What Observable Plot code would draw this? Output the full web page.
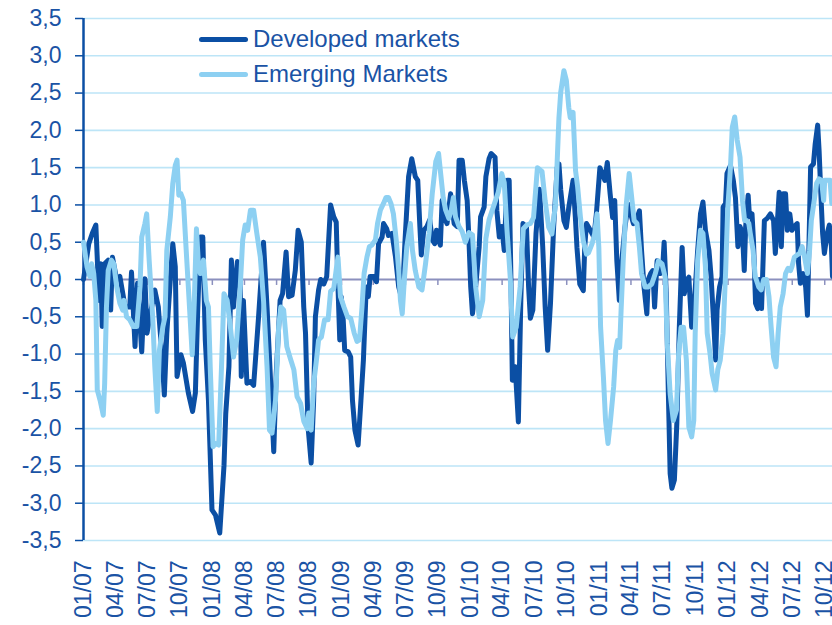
<!DOCTYPE html>
<html>
<head>
<meta charset="utf-8">
<script src="https://cdn.jsdelivr.net/npm/d3@7"></script>
<script src="https://cdn.jsdelivr.net/npm/@observablehq/plot@0.6"></script>
<style>
  body { margin: 0; background: #fff; }
  #wrap { position: relative; width: 832px; height: 625px; overflow: hidden; font-family: "Liberation Sans", Arial, sans-serif; }
  .leg { position: absolute; left: 199px; height: 30px; line-height: 30px; display: flex; align-items: center; font-size: 24px; color: #1A53A5; white-space: nowrap; }
  .leg .sw { display: inline-block; width: 49px; height: 5px; border-radius: 3px; margin-right: 5px; }
</style>
</head>
<body>
<div id="wrap"></div>
<script>
// ---- Data ----
const seriesNames = ["Developed markets", "Emerging Markets"];

const dmDates = [
"2007-01-01","2007-01-16","2007-01-26","2007-02-05","2007-02-14","2007-02-19","2007-02-23","2007-03-02","2007-03-12","2007-03-19",
"2007-03-24","2007-04-05","2007-04-14","2007-04-29","2007-05-12","2007-05-17","2007-05-27","2007-06-03","2007-06-15","2007-06-24",
"2007-06-30","2007-07-08","2007-07-22","2007-08-01","2007-08-11","2007-08-18","2007-08-25","2007-09-04","2007-09-11","2007-09-18",
"2007-09-23","2007-10-04","2007-10-11","2007-10-25","2007-11-06","2007-11-14","2007-11-20","2007-11-28","2007-12-05","2007-12-12",
"2007-12-21","2007-12-31","2008-01-10","2008-01-22","2008-02-03","2008-02-08","2008-02-17","2008-02-24","2008-03-01","2008-03-12",
"2008-03-20","2008-03-23","2008-03-29","2008-04-08","2008-04-18","2008-04-27","2008-05-11","2008-05-25","2008-06-04","2008-06-13",
"2008-06-23","2008-06-30","2008-07-11","2008-07-18","2008-07-28","2008-08-04","2008-08-14","2008-08-23","2008-08-31","2008-09-09",
"2008-09-16","2008-09-21","2008-09-28","2008-10-07","2008-10-14","2008-10-19","2008-10-28","2008-11-03","2008-11-12","2008-11-20",
"2008-12-01","2008-12-10","2008-12-17","2008-12-22","2008-12-27","2008-12-31","2009-01-05","2009-01-10","2009-01-20","2009-01-27",
"2009-02-01","2009-02-08","2009-02-17","2009-02-25","2009-03-04","2009-03-12","2009-03-18","2009-03-23","2009-04-02","2009-04-10",
"2009-04-16","2009-04-26","2009-04-30","2009-05-09","2009-05-14","2009-05-24","2009-06-03","2009-06-12","2009-06-22","2009-06-30",
"2009-07-10","2009-07-19","2009-07-29","2009-08-05","2009-08-11","2009-08-15","2009-08-22","2009-08-31","2009-09-08","2009-09-15",
"2009-09-22","2009-09-27","2009-10-03","2009-10-08","2009-10-13","2009-10-18","2009-10-27","2009-11-06","2009-11-16","2009-11-25",
"2009-11-30","2009-12-09","2009-12-15","2009-12-23","2009-12-28","2010-01-02","2010-01-07","2010-01-16","2010-01-26","2010-01-30",
"2010-02-09","2010-02-14","2010-02-23","2010-03-01","2010-03-12","2010-03-17","2010-03-24","2010-03-31","2010-04-07","2010-04-15",
"2010-04-21","2010-04-26","2010-04-30","2010-05-08","2010-05-17","2010-05-24","2010-05-30","2010-06-09","2010-06-15","2010-06-20",
"2010-06-27","2010-07-06","2010-07-16","2010-07-25","2010-08-01","2010-08-08","2010-08-16","2010-08-25","2010-09-04","2010-09-09",
"2010-09-14","2010-09-23","2010-09-30","2010-10-07","2010-10-19","2010-10-26","2010-10-30","2010-11-07","2010-11-17","2010-11-21",
"2010-11-26","2010-12-07","2010-12-17","2010-12-24","2011-01-03","2011-01-10","2011-01-17","2011-01-24","2011-02-01","2011-02-08",
"2011-02-14","2011-02-20","2011-02-27","2011-03-06","2011-03-15","2011-03-24","2011-03-31","2011-04-08","2011-04-16","2011-04-25",
"2011-05-01","2011-05-08","2011-05-16","2011-05-20","2011-05-27","2011-06-02","2011-06-07","2011-06-14","2011-06-23","2011-06-30",
"2011-07-04","2011-07-10","2011-07-16","2011-07-21","2011-07-26","2011-08-02","2011-08-09","2011-08-16","2011-08-24","2011-08-30",
"2011-09-07","2011-09-12","2011-09-20","2011-09-28","2011-10-07","2011-10-15","2011-10-22","2011-10-29","2011-11-08","2011-11-14",
"2011-11-22","2011-11-27","2011-12-01","2011-12-08","2011-12-15","2011-12-18","2011-12-25","2011-12-29","2012-01-08","2012-01-16",
"2012-01-22","2012-01-29","2012-02-04","2012-02-11","2012-02-16","2012-02-20","2012-02-27","2012-03-02","2012-03-09","2012-03-13",
"2012-03-19","2012-03-25","2012-03-30","2012-04-05","2012-04-13","2012-04-21","2012-04-30","2012-05-09","2012-05-14","2012-05-19",
"2012-05-25","2012-05-31","2012-06-05","2012-06-12","2012-06-17","2012-06-24","2012-06-30","2012-07-07","2012-07-15","2012-07-19",
"2012-07-24","2012-08-01","2012-08-08","2012-08-13","2012-08-17","2012-08-22","2012-08-30","2012-09-04","2012-09-11","2012-09-15",
"2012-09-20","2012-09-25","2012-09-30","2012-10-08","2012-10-14","2012-10-20","2012-10-23"
];
const dmValues = [
0.0,0.48,0.62,0.73,-0.28,0.21,-0.63,0.21,0.26,-0.41,
0.30,0.0,0.04,-0.37,-0.37,0.10,-0.90,-0.05,-0.97,0.01,
-0.72,-0.50,-0.14,-0.37,-0.99,-1.55,-0.72,0.0,0.48,0.17,
-1.30,-1.01,-1.12,-1.52,-1.77,-1.52,-0.50,0.57,0.57,-0.81,
-1.62,-3.09,-3.16,-3.40,-2.50,-1.80,-1.17,0.26,-0.37,0.24,
-0.10,-1.30,-0.28,-1.39,-1.37,-1.42,-0.50,0.50,-0.37,-1.26,
-2.31,-1.26,-0.28,-0.19,0.37,-0.23,-0.21,0.12,0.66,0.50,
-0.37,-0.72,-1.97,-2.46,-1.62,-0.50,-0.14,0.0,-0.06,0.04,
1.00,0.84,0.77,-0.10,-0.81,-0.23,-0.46,-0.95,-0.97,-1.04,
-1.62,-2.02,-2.22,-1.62,-1.08,-0.10,-0.23,0.04,0.04,-0.03,
0.48,0.57,0.75,0.68,0.59,0.62,0.30,-0.10,-0.28,0.53,
1.38,1.62,1.38,1.33,0.71,0.33,0.66,0.71,0.80,0.53,
0.48,0.66,0.53,0.46,1.06,0.84,0.75,1.15,0.75,0.71,
1.60,1.60,1.33,1.06,0.53,-0.10,-0.46,-0.10,0.44,0.84,
0.97,1.38,1.62,1.69,1.64,0.93,0.57,0.71,0.39,1.33,
1.33,0.0,-1.35,-1.17,-1.91,-0.28,0.75,0.71,-0.10,-0.52,
-0.41,0.62,1.21,0.44,-0.37,-0.95,-0.32,0.71,1.50,1.55,
1.20,0.79,0.70,0.97,1.33,0.79,0.43,-0.06,-0.15,0.43,
0.75,0.66,0.57,0.88,1.50,1.42,1.33,1.57,1.15,0.83,
1.06,0.25,-0.28,0.25,0.70,1.01,0.88,0.75,0.79,0.92,
0.39,-0.10,-0.46,0.0,0.08,0.12,-0.37,0.25,0.08,0.17,
0.50,-0.19,-1.53,-2.60,-2.80,-2.69,-1.93,-0.64,0.43,-0.19,
0.0,0.03,-0.64,-0.28,0.39,0.88,1.04,0.66,0.39,0.04,
-0.63,-1.08,-0.41,-0.10,0.04,0.97,1.02,1.42,1.53,1.33,
1.10,0.44,0.71,0.62,0.12,0.71,1.13,0.84,0.88,0.53,
-0.32,-0.39,0.0,-0.39,0.79,0.82,0.88,0.79,0.35,0.71,
1.17,0.44,1.15,1.15,0.66,0.88,0.66,0.71,0.75,0.21,
-0.05,0.08,-0.10,-0.48,0.39,1.51,1.55,1.82,2.07,1.73,
1.15,0.62,0.35,0.62,0.73,0.44,0.04
];

const emDates = [
"2007-01-01","2007-01-11","2007-01-19","2007-01-24","2007-01-30","2007-02-05","2007-02-09","2007-02-17","2007-02-26","2007-03-02",
"2007-03-07","2007-03-12","2007-03-21","2007-03-28","2007-04-05","2007-04-14","2007-04-22","2007-04-26","2007-05-03","2007-05-12",
"2007-05-22","2007-06-01","2007-06-10","2007-06-15","2007-06-24","2007-06-29","2007-07-06","2007-07-16","2007-07-22","2007-07-29",
"2007-08-04","2007-08-14","2007-08-20","2007-08-25","2007-09-04","2007-09-11","2007-09-18","2007-09-23","2007-09-28","2007-10-04",
"2007-10-11","2007-10-19","2007-10-25","2007-11-05","2007-11-11","2007-11-17","2007-11-23","2007-11-28","2007-12-07","2007-12-15",
"2007-12-21","2007-12-26","2008-01-03","2008-01-10","2008-01-19","2008-01-27","2008-02-03","2008-02-12","2008-02-21","2008-03-01",
"2008-03-10","2008-03-20","2008-03-27","2008-04-03","2008-04-10","2008-04-18","2008-04-27","2008-05-06","2008-05-16","2008-05-25",
"2008-06-04","2008-06-11","2008-06-18","2008-06-28","2008-07-07","2008-07-13","2008-07-21","2008-07-30","2008-08-09","2008-08-19",
"2008-08-28","2008-09-07","2008-09-16","2008-09-26","2008-09-30","2008-10-07","2008-10-14","2008-10-22","2008-10-28","2008-11-05",
"2008-11-14","2008-11-24","2008-12-01","2008-12-10","2008-12-18","2008-12-22","2008-12-29","2009-01-08","2009-01-18","2009-01-27",
"2009-02-06","2009-02-14","2009-02-21","2009-02-28","2009-03-06","2009-03-14","2009-03-21","2009-03-28","2009-04-07","2009-04-13",
"2009-04-21","2009-04-30","2009-05-07","2009-05-14","2009-05-21","2009-05-28","2009-06-05","2009-06-12","2009-06-17","2009-06-22",
"2009-06-28","2009-07-05","2009-07-15","2009-07-21","2009-07-29","2009-08-08","2009-08-17","2009-08-27","2009-09-06","2009-09-15",
"2009-09-25","2009-10-03","2009-10-08","2009-10-16","2009-10-23","2009-11-01","2009-11-08","2009-11-14","2009-11-20","2009-11-30",
"2009-12-09","2009-12-18","2009-12-28","2010-01-07","2010-01-16","2010-01-26","2010-02-05","2010-02-14","2010-02-23","2010-03-07",
"2010-03-21","2010-03-31","2010-04-07","2010-04-15","2010-04-24","2010-05-01","2010-05-11","2010-05-22","2010-05-31","2010-06-10",
"2010-06-20","2010-06-29","2010-07-10","2010-07-23","2010-08-01","2010-08-11","2010-08-20","2010-08-30","2010-09-09","2010-09-14",
"2010-09-23","2010-09-30","2010-10-07","2010-10-11","2010-10-19","2010-10-26","2010-11-01","2010-11-09","2010-11-17","2010-11-26",
"2010-12-02","2010-12-12","2010-12-19","2010-12-26","2010-12-31","2011-01-05","2011-01-13","2011-01-19","2011-01-26","2011-02-02",
"2011-02-11","2011-02-17","2011-02-22","2011-02-28","2011-03-04","2011-03-10","2011-03-18","2011-03-27","2011-04-04","2011-04-10",
"2011-04-18","2011-04-25","2011-05-01","2011-05-11","2011-05-20","2011-05-30","2011-06-09","2011-06-18","2011-06-28","2011-07-07",
"2011-07-13","2011-07-21","2011-07-30","2011-08-08","2011-08-14","2011-08-21","2011-08-28","2011-09-05","2011-09-12","2011-09-20",
"2011-09-26","2011-09-30","2011-10-07","2011-10-15","2011-10-22","2011-10-29","2011-11-03","2011-11-11","2011-11-17","2011-11-27",
"2011-12-03","2011-12-10","2011-12-18","2011-12-25","2011-12-31","2012-01-08","2012-01-13","2012-01-20","2012-01-27","2012-02-04",
"2012-02-11","2012-02-17","2012-02-23","2012-02-29","2012-03-04","2012-03-12","2012-03-18","2012-03-28","2012-04-04","2012-04-11",
"2012-04-19","2012-04-26","2012-05-02","2012-05-09","2012-05-16","2012-05-22","2012-05-28","2012-06-05","2012-06-12","2012-06-19",
"2012-06-26","2012-06-30","2012-07-07","2012-07-15","2012-07-22","2012-07-29","2012-08-05","2012-08-13","2012-08-19","2012-08-24",
"2012-08-31","2012-09-08","2012-09-15","2012-09-22","2012-09-28","2012-10-01","2012-10-08","2012-10-16","2012-10-21"
];
const emValues = [
0.50,0.17,0.04,0.21,0.08,-0.28,-1.48,-1.62,-1.82,-1.39,
-0.37,0.12,0.26,0.21,-0.10,-0.32,-0.41,-0.28,-0.50,-0.54,
-0.63,-0.63,-0.10,0.57,0.75,0.88,0.26,-0.50,-1.17,-1.77,
-0.95,-0.63,-0.50,0.39,0.84,1.29,1.53,1.60,1.13,1.15,
1.06,0.39,-0.10,-1.01,-0.28,0.68,0.17,0.08,0.26,-0.28,
-0.37,-1.17,-2.24,-2.20,-2.22,-1.17,-0.19,-0.28,-0.63,-1.04,
-0.81,-0.10,0.53,0.73,0.66,0.93,0.93,0.62,0.30,-0.28,
-1.17,-2.02,-2.06,-1.62,-0.63,-0.37,-0.41,-0.90,-1.06,-1.21,
-1.57,-1.66,-1.90,-2.00,-1.79,-2.02,-1.40,-1.08,-0.81,-0.77,
-0.54,-0.54,-0.16,-0.12,0.17,0.30,-0.23,-0.37,-0.50,-0.52,
-0.72,-0.83,-0.81,-0.37,0.08,0.30,0.44,0.46,0.53,0.75,
0.93,1.02,1.10,1.10,1.02,0.88,0.53,0.12,-0.28,-0.46,
0.0,0.44,0.75,0.39,0.12,-0.10,-0.14,0.21,0.62,1.15,
1.58,1.69,1.46,1.10,0.93,0.82,0.93,1.10,0.84,0.71,
0.64,0.50,0.63,0.60,-0.10,-0.50,-0.28,0.55,0.80,0.97,
1.17,1.42,1.30,0.65,0.03,-0.77,-0.64,-0.10,0.68,0.73,
0.75,0.83,1.50,1.45,1.05,0.70,0.61,1.00,2.17,2.51,
2.80,2.67,2.30,2.17,2.24,1.46,1.24,0.83,0.52,0.34,
0.36,0.48,0.61,0.88,0.43,-0.64,-1.31,-1.89,-2.20,-1.89,
-1.44,-0.95,-0.82,-0.91,-0.42,0.25,0.97,1.42,1.06,0.79,
0.75,0.43,0.08,-0.10,-0.10,-0.06,0.08,0.25,0.21,0.03,
-0.86,-1.53,-1.89,-1.75,-1.00,-0.64,-0.64,-1.08,-1.98,-2.11,
-1.89,-0.72,0.26,0.66,0.62,0.17,-0.72,-0.99,-1.26,-1.48,
-1.21,-1.08,-0.72,0.08,0.93,1.51,2.04,2.18,1.87,1.64,
1.06,0.79,0.79,0.75,0.62,0.39,0.04,-0.10,-0.14,0.0,
0.0,-0.23,-0.63,-1.04,-1.17,-0.72,-0.37,-0.19,0.08,0.15,
0.12,0.17,0.30,0.33,0.35,0.44,0.30,0.08,0.39,0.79,
1.02,1.29,1.35,1.33,1.06,1.33,1.33,1.33,1.02
];

const xTickDates = [
"2007-01-01","2007-04-01","2007-07-01","2007-10-01","2008-01-01","2008-04-01","2008-07-01","2008-10-01",
"2009-01-01","2009-04-01","2009-07-01","2009-10-01","2010-01-01","2010-04-01","2010-07-01","2010-10-01",
"2011-01-01","2011-04-01","2011-07-01","2011-10-01","2012-01-01","2012-04-01","2012-07-01","2012-10-01"
];
const yTickValues = [-3.5,-3,-2.5,-2,-1.5,-1,-0.5,0,0.5,1,1.5,2,2.5,3,3.5];
const xDomain = ["2007-01-01", "2012-10-23"];

// ---- Build ----
const parse = d3.utcParse("%Y-%m-%d");
const dm = dmDates.map((d, i) => ({date: parse(d), value: dmValues[i]}));
const em = emDates.map((d, i) => ({date: parse(d), value: emValues[i]}));
const quarters = xTickDates.map(parse);
const start = parse(xDomain[0]);

const dark = "#0B4FA4", light = "#8DD0F2", ink = "#1A53A5", zeroCol = "#8B90BE", gridCol = "#BDE5F7";
const fmtY = v => v.toFixed(1).replace(".", ",");

const chart = Plot.plot({
  width: 832,
  height: 625,
  marginLeft: 83,
  marginRight: 0,
  marginTop: 18,
  marginBottom: 85,
  style: {fontFamily: "'Liberation Sans', Arial, sans-serif", fontSize: "23px", color: ink, background: "#fff", overflow: "visible"},
  x: {type: "utc", domain: xDomain.map(parse), label: null},
  y: {domain: [-3.5, 3.5], label: null},
  marks: [
    Plot.gridY(yTickValues.filter(v => v !== 0), {stroke: gridCol, strokeOpacity: 1, strokeWidth: 1.6}),
    Plot.ruleY([0], {stroke: zeroCol, strokeWidth: 2}),
    Plot.ruleX(quarters, {y1: 0, y2: -0.08, stroke: zeroCol, strokeWidth: 1.5}),
    Plot.axisY(yTickValues, {tickSize: 8, tickPadding: 14, stroke: dark, strokeWidth: 1.5, fill: ink, fontSize: 23, tickFormat: fmtY, label: null}),
    Plot.ruleX([start], {stroke: dark, strokeWidth: 2.5}),
    Plot.axisX(quarters, {tickSize: 0, tickPadding: 20, tickRotate: -90, fill: ink, fontSize: 23, tickFormat: d3.utcFormat("%m/%y"), label: null}),
    Plot.line(dm, {x: "date", y: "value", stroke: dark, strokeWidth: 5, strokeLinejoin: "round", strokeLinecap: "round"}),
    Plot.line(em, {x: "date", y: "value", stroke: light, strokeWidth: 5, strokeLinejoin: "round", strokeLinecap: "round"})
  ]
});

const wrap = document.getElementById("wrap");
wrap.appendChild(chart);

// Legend (HTML overlay inside the plot area, as in the reference)
const legendColors = [dark, light];
const legendTops = [24, 59];
seriesNames.forEach((name, i) => {
  const row = document.createElement("div");
  row.className = "leg";
  row.style.top = legendTops[i] + "px";
  const sw = document.createElement("span");
  sw.className = "sw";
  sw.style.background = legendColors[i];
  row.appendChild(sw);
  row.appendChild(document.createTextNode(name));
  wrap.appendChild(row);
});
</script>
</body>
</html>
